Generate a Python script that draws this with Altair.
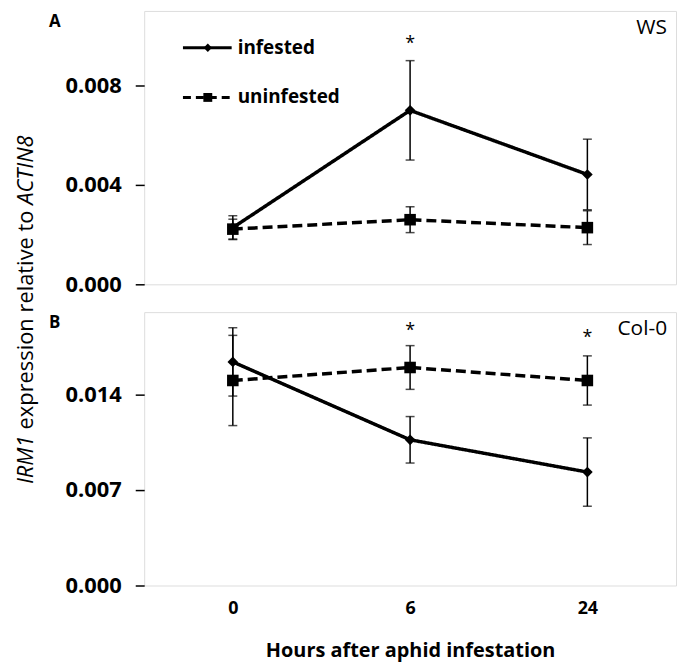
import altair as alt
import pandas as pd

# ---------------- data ----------------
hours = ["0", "6", "24"]
series = ["infested", "uninfested"]

# Panel A: WS
ws_infested = [0.00228, 0.00700, 0.00442]
ws_infested_err = [0.00048, 0.00200, 0.00142]
ws_uninfested = [0.00222, 0.00260, 0.00228]
ws_uninfested_err = [0.00040, 0.00052, 0.00068]

# Panel B: Col-0
col_infested = [0.01636, 0.01066, 0.00830]
col_infested_err = [0.00250, 0.00170, 0.00250]
col_uninfested = [0.01500, 0.01595, 0.01500]
col_uninfested_err = [0.00330, 0.00160, 0.00180]

# significance asterisks
ws_star_hours = ["6"]
ws_star_y = [0.0097]
col_star_hours = ["6", "24"]
col_star_y = [0.0187, 0.0182]

ws_ticks = [0.0, 0.004, 0.008]
col_ticks = [0.0, 0.007, 0.014]
ws_max = 0.011
col_max = 0.020

FONT = "Open Sans"
W, H = 535, 275


def make_df(inf, inf_err, un, un_err):
    rows = []
    for name, means, errs in (("infested", inf, inf_err), ("uninfested", un, un_err)):
        for h, m, e in zip(hours, means, errs):
            rows.append({"hour": h, "series": name, "mean": m, "lo": m - e, "hi": m + e})
    return pd.DataFrame(rows)


def panel(df, star_hours, star_y, ymax, ticks, show_x, letter, strain, extra=()):
    if show_x:
        xaxis = alt.Axis(
            title="Hours after aphid infestation",
            labelAngle=0,
            ticks=False,
            domain=False,
            labelFont=FONT,
            labelFontWeight="bold",
            labelColor="black",
            labelFontSize=18,
            labelPadding=14,
            titleFontSize=20,
            titleFont=FONT,
            titleFontWeight="bold",
            titlePadding=23,
            titleColor="black",
        )
    else:
        xaxis = None
    x = alt.X("hour:N", sort=hours,
              scale=alt.Scale(type="point", padding=0.5, domain=hours),
              axis=xaxis)
    ysc = alt.Scale(domain=[0, ymax], nice=False, zero=True)
    yaxis = alt.Axis(values=ticks, format=".3f", title=None, grid=False,
                     domain=False, tickSize=9, tickWidth=1.5, tickColor="black",
                     labelFont=FONT, labelFontWeight="bold", labelColor="black",
                     labelPadding=14, labelFontSize=22)
    base = alt.Chart(df)
    bars = base.mark_rule(color="black", strokeWidth=1.5).encode(
        x=x, y=alt.Y("lo:Q", scale=ysc, axis=yaxis), y2="hi:Q")
    cap_hi = base.mark_tick(color="black", size=9, thickness=1.5).encode(
        x=x, y=alt.Y("hi:Q"))
    cap_lo = base.mark_tick(color="black", size=9, thickness=1.5).encode(
        x=x, y=alt.Y("lo:Q"))
    lines = base.mark_line(color="black", strokeWidth=3.5).encode(
        x=x, y=alt.Y("mean:Q"),
        detail="series:N",
        strokeDash=alt.StrokeDash("series:N",
                                  scale=alt.Scale(domain=series, range=[[1, 0], [10, 5]]),
                                  legend=None))
    points = base.mark_point(filled=True, color="black", opacity=1).encode(
        x=x, y=alt.Y("mean:Q"),
        shape=alt.Shape("series:N", scale=alt.Scale(domain=series, range=["diamond", "square"]), legend=None),
        size=alt.Size("series:N", scale=alt.Scale(domain=series, range=[115, 135]), legend=None))
    stars = alt.Chart(pd.DataFrame({"hour": star_hours, "y": star_y, "t": ["*"] * len(star_hours)})).mark_text(
        font=FONT, fontSize=18, color="black", dy=1, baseline="middle").encode(
        x=x, y=alt.Y("y:Q"), text="t:N")
    lab = alt.Chart(pd.DataFrame({"t": [letter]})).mark_text(
        font=FONT, fontSize=17, fontWeight="bold", color="black", align="center", baseline="middle").encode(
        x=alt.value(-90), y=alt.value(11), text="t:N")
    strain_lab = alt.Chart(pd.DataFrame({"t": [strain]})).mark_text(
        font=FONT, fontSize=21, color="black", align="right", baseline="middle").encode(
        x=alt.value(526), y=alt.value(17), text="t:N")
    layers = [bars, cap_hi, cap_lo, lines, points, stars, lab, strain_lab] + list(extra)
    return alt.layer(*layers).properties(width=W, height=H)


# ---------------- legend (panel A) ----------------
leg = []
for name, ly, dash, shp, sz in (("infested", 37, [1, 0], "diamond", 70),
                                ("uninfested", 87, [8, 5], "square", 80)):
    d = pd.DataFrame({"t": [name]})
    leg.append(alt.Chart(d).mark_rule(color="black", strokeWidth=3, strokeDash=dash).encode(
        x=alt.value(39), x2=alt.value(88), y=alt.value(ly)))
    leg.append(alt.Chart(d).mark_point(filled=True, color="black", opacity=1, shape=shp, size=sz).encode(
        x=alt.value(64), y=alt.value(ly)))
    leg.append(alt.Chart(d).mark_text(font=FONT, fontSize=19, fontWeight="bold", color="black",
                                      align="left", baseline="middle").encode(
        x=alt.value(94), y=alt.value(ly), text="t:N"))

# ---------------- y title with italic gene names ----------------
title_parts = [("IRM1", "italic", 476), ("expression relative to", "normal", 421), ("ACTIN8", "italic", 195)]
for txt, style, yy in title_parts:
    leg.append(alt.Chart(pd.DataFrame({"t": [txt]})).mark_text(
        font=FONT, fontSize=22, fontStyle=style, color="black", angle=270,
        align="left", baseline="alphabetic").encode(
        x=alt.value(-112), y=alt.value(yy), text="t:N"))

dfA = make_df(ws_infested, ws_infested_err, ws_uninfested, ws_uninfested_err)
dfB = make_df(col_infested, col_infested_err, col_uninfested, col_uninfested_err)

A = panel(dfA, ws_star_hours, ws_star_y, ws_max, ws_ticks, False, "A", "WS", leg)
B = panel(dfB, col_star_hours, col_star_y, col_max, col_ticks, True, "B", "Col-0")

chart = alt.vconcat(A, B, spacing=28, bounds="flush").properties(
    padding={"left": 6, "top": 0, "right": 0, "bottom": 0}
).configure_view(
    stroke="black", strokeWidth=1.5
).configure(background="white")

chart.save("out.html", embed_options={"renderer": "svg", "actions": False})
